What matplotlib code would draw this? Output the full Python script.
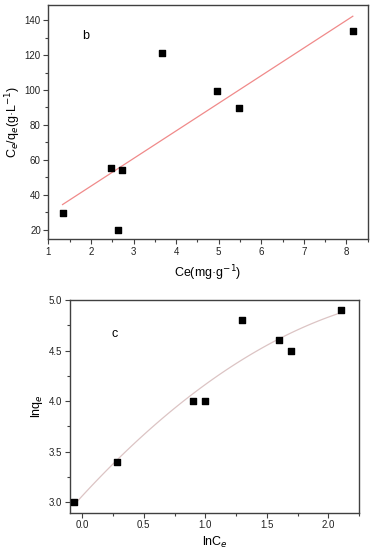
import numpy as np
import matplotlib
matplotlib.use("Agg")
import matplotlib.pyplot as plt
from matplotlib.ticker import MultipleLocator

plt.rcParams['font.family'] = ['Liberation Sans', 'DejaVu Sans']

# Panel b data
ce_b = [1.33, 2.46, 2.64, 2.72, 3.67, 4.95, 5.47, 8.15]
ceqe_b = [29.7, 55.4, 19.8, 54.3, 121.2, 99.3, 89.6, 134.0]

# Panel c data
lnce_c = [-0.07, 0.28, 0.90, 1.00, 1.30, 1.60, 1.70, 2.10]
lnqe_c = [3.00, 3.40, 4.00, 4.00, 4.80, 4.60, 4.50, 4.90]

fig = plt.figure(figsize=(3.71, 5.50), dpi=100)

spine_col = '#404040'
tick_fs = 7
lab_fs = 9

def style(ax):
    for s in ax.spines.values():
        s.set_color(spine_col)
        s.set_linewidth(1.0)
    ax.tick_params(which='both', direction='out', colors=spine_col, labelcolor='#222222',
                   top=False, right=False, labelsize=tick_fs, pad=2)
    ax.tick_params(which='major', length=3.5, width=0.8)
    ax.tick_params(which='minor', length=2, width=0.8)

# Top panel
ax1 = fig.add_axes([0.1307, 0.5655, 0.8604, 0.4255])
ax1.scatter(ce_b, ceqe_b, marker='s', s=22, color='black', zorder=3)
coef = np.polyfit(ce_b, ceqe_b, 1)
xf = np.linspace(min(ce_b), max(ce_b), 50)
ax1.plot(xf, np.polyval(coef, xf), color='#f08a8a', lw=0.9, zorder=2)
ax1.set_xlim(1, 8.5)
ax1.set_ylim(14.7, 148.7)
ax1.xaxis.set_major_locator(MultipleLocator(1))
ax1.xaxis.set_minor_locator(MultipleLocator(0.5))
ax1.yaxis.set_major_locator(MultipleLocator(20))
ax1.yaxis.set_minor_locator(MultipleLocator(10))
ax1.set_xlabel('Ce(mg·g$^{-1}$)', fontsize=lab_fs, labelpad=5)
ax1.set_ylabel('C$_e$/q$_e$(g·L$^{-1}$)', fontsize=lab_fs, labelpad=1)
ax1.text(1.875, 130.9, 'b', fontsize=9, ha='center', va='center')
style(ax1)

# Bottom panel
ax2 = fig.add_axes([0.1887, 0.0678, 0.779, 0.3867])
ax2.scatter(lnce_c, lnqe_c, marker='s', s=22, color='black', zorder=3)
coef2 = np.polyfit(lnce_c, lnqe_c, 2)
xf2 = np.linspace(min(lnce_c), max(lnce_c), 100)
ax2.plot(xf2, np.polyval(coef2, xf2), color='#dcc4c4', lw=0.9, zorder=2)
ax2.set_xlim(-0.1, 2.25)
ax2.set_ylim(2.897, 5.0)
ax2.xaxis.set_major_locator(MultipleLocator(0.5))
ax2.xaxis.set_minor_locator(MultipleLocator(0.25))
ax2.yaxis.set_major_locator(MultipleLocator(0.5))
ax2.yaxis.set_minor_locator(MultipleLocator(0.25))
ax2.set_xlabel('lnC$_e$', fontsize=lab_fs, labelpad=3)
ax2.set_ylabel('lnq$_e$', fontsize=lab_fs, labelpad=3)
ax2.text(0.265, 4.66, 'c', fontsize=9, ha='center', va='center')
style(ax2)

fig.savefig('out.png', dpi=100)
